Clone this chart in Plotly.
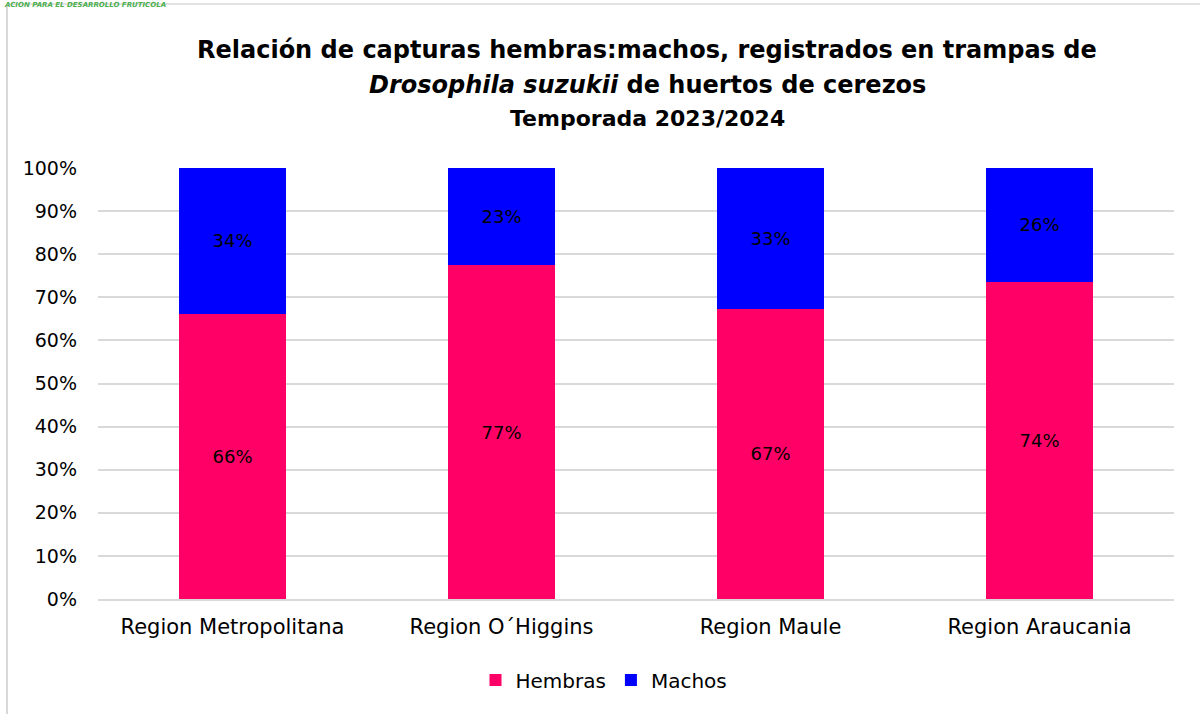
import plotly.graph_objects as go

categories = ["Region Metropolitana", "Region O´Higgins", "Region Maule", "Region Araucania"]
hembras = [66.2, 77.4, 67.3, 73.6]
machos = [33.8, 22.6, 32.7, 26.4]
y_ticks = [0, 10, 20, 30, 40, 50, 60, 70, 80, 90, 100]
y_tick_labels = [f"{v}%" for v in y_ticks]

FONT = "DejaVu Sans, sans-serif"

W, H = 1200, 714
ML, MR, MT, MB = 98, 26, 168, 115
PW, PH = W - ML - MR, H - MT - MB


def px_y(py):
    return (H - MB - py) / PH


def px_x(px):
    return (px - ML) / PW


fig = go.Figure()
fig.add_trace(go.Bar(
    x=categories, y=hembras, name="Hembras",
    marker=dict(color="#FF0066", line=dict(width=0)),
    text=[f"{round(v)}%" for v in hembras], textposition="inside",
    insidetextanchor="middle", textfont=dict(color="black", size=18, family=FONT),
    width=0.4,
))
fig.add_trace(go.Bar(
    x=categories, y=machos, name="Machos",
    marker=dict(color="#0000FF", line=dict(width=0)),
    text=[f"{round(v)}%" for v in machos], textposition="inside",
    insidetextanchor="middle", textfont=dict(color="black", size=18, family=FONT),
    width=0.4,
))

fig.update_layout(
    barmode="stack",
    width=W, height=H,
    margin=dict(l=ML, r=MR, t=MT, b=MB),
    paper_bgcolor="white", plot_bgcolor="white",
    font=dict(family=FONT, color="black", size=18),
    showlegend=True,
    legend=dict(orientation="h", x=px_x(604), xanchor="center", y=px_y(680), yanchor="middle",
                font=dict(size=20, family=FONT), traceorder="normal"),
    xaxis=dict(showgrid=False, showline=True, linecolor="#d9d9d9", linewidth=2,
               ticks="", tickfont=dict(size=21, family=FONT), fixedrange=True,
               ticklabelstandoff=8),
    yaxis=dict(range=[0, 100], tickvals=y_ticks, ticktext=y_tick_labels,
               showgrid=True, gridcolor="#d9d9d9", gridwidth=2,
               zeroline=False, ticks="", tickfont=dict(size=19, family=FONT),
               ticklabelstandoff=20, fixedrange=True),
)

TX = px_x(647)
fig.add_annotation(text="<b>Relación de capturas hembras:machos, registrados en trampas de</b>",
                   xref="paper", yref="paper", x=TX, y=px_y(50),
                   xanchor="center", yanchor="middle", showarrow=False,
                   font=dict(size=24, family=FONT))
fig.add_annotation(text="<b><i>Drosophila suzukii</i> de huertos de cerezos</b>",
                   xref="paper", yref="paper", x=TX, y=px_y(85),
                   xanchor="center", yanchor="middle", showarrow=False,
                   font=dict(size=24, family=FONT))
fig.add_annotation(text="<b>Temporada 2023/2024</b>",
                   xref="paper", yref="paper", x=TX, y=px_y(118),
                   xanchor="center", yanchor="middle", showarrow=False,
                   font=dict(size=22, family=FONT))

# Header text at top-left (partially cropped in source)
fig.add_annotation(text="<b><i>ACION PARA EL DESARROLLO FRUTICOLA</i></b>",
                   xref="paper", yref="paper", x=px_x(2), y=px_y(5),
                   xanchor="left", yanchor="middle", showarrow=False,
                   font=dict(size=7, family=FONT, color="#4CAF50"))

# Frame lines
fig.add_shape(type="line", xref="paper", yref="paper",
              x0=px_x(7), x1=px_x(7), y0=px_y(5), y1=px_y(H),
              line=dict(color="#d9d9d9", width=2))
fig.add_shape(type="line", xref="paper", yref="paper",
              x0=px_x(8), x1=px_x(W), y0=px_y(4), y1=px_y(4),
              line=dict(color="#d9d9d9", width=1.5))

fig.write_html("out.html", config={"displayModeBar": False},
               post_script="document.body.style.margin='0';document.body.style.overflow='hidden';")
